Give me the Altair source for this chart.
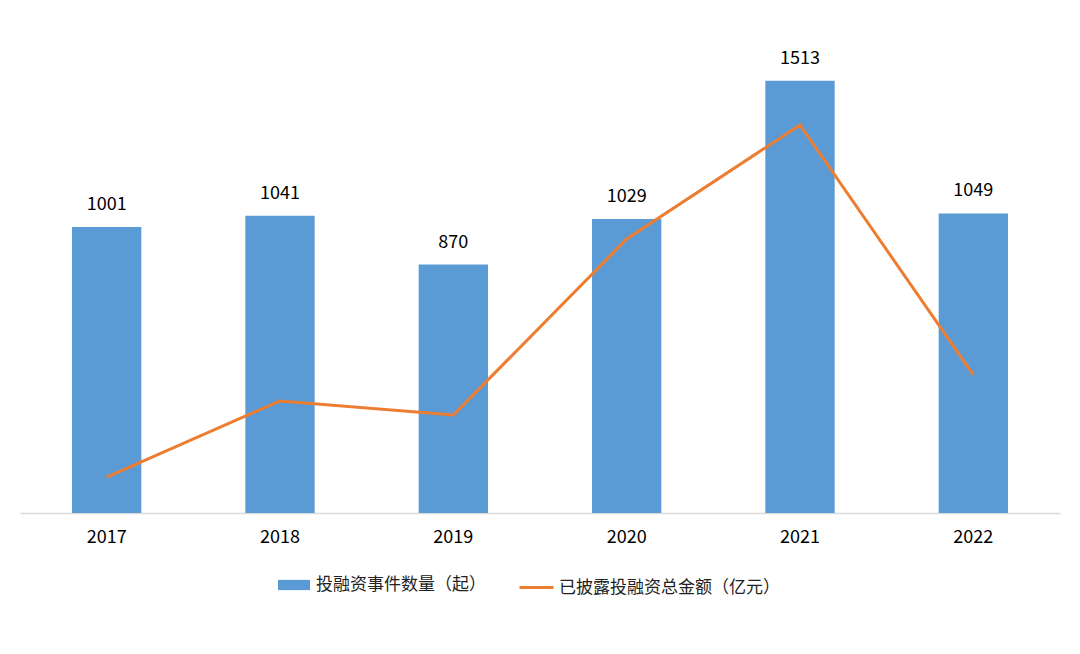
import altair as alt
import pandas as pd

years = ["2017", "2018", "2019", "2020", "2021", "2022"]
events = [1001, 1041, 870, 1029, 1513, 1049]
amounts = [181, 564, 493, 1379, 1953, 695]

bar_name = "投融资事件数量（起）"
line_name = "已披露投融资总金额（亿元）"

df = pd.DataFrame({
    "year": years,
    "events": events,
    "amount": amounts,
    "bar_series": [bar_name] * len(years),
    "line_series": [line_name] * len(years),
})

FONT = "Noto Sans CJK SC"

x = alt.X(
    "year:N",
    title=None,
    sort=years,
    scale=alt.Scale(paddingInner=0.6, paddingOuter=0.3),
    axis=alt.Axis(
        labelAngle=0, labelFontSize=18, labelColor="#000000", labelFont=FONT,
        ticks=False, domainColor="#d9d9d9", domainWidth=1.5, labelPadding=15,
        grid=False,
    ),
)

base = alt.Chart(df)

bars = base.mark_bar(color="#5B9BD5").encode(
    x=x,
    y=alt.Y("events:Q", axis=None, scale=alt.Scale(domain=[0, 1600])),
    fill=alt.Fill(
        "bar_series:N",
        scale=alt.Scale(domain=[bar_name], range=["#5B9BD5"]),
        legend=alt.Legend(
            title=None, orient="none", legendX=258, legendY=513,
            symbolType="M-1,-0.32H1V0.32H-1Z",
            symbolSize=1024, labelFontSize=17, labelFont=FONT, labelColor="#222222",
            symbolStrokeWidth=0, labelOffset=6, labelLimit=0,
        ),
    ),
)

labels = base.mark_text(dy=-22, fontSize=18, font=FONT, color="#000000").encode(
    x=x,
    y=alt.Y("events:Q", axis=None, scale=alt.Scale(domain=[0, 1600])),
    text="events:Q",
)

line = base.mark_line(strokeWidth=3).encode(
    x=x,
    y=alt.Y("amount:Q", axis=None, scale=alt.Scale(domain=[0, 2300])),
    stroke=alt.Stroke(
        "line_series:N",
        scale=alt.Scale(domain=[line_name], range=["#ED7D31"]),
        legend=alt.Legend(
            title=None, orient="none", legendX=498, legendY=513,
            symbolType="stroke", symbolSize=1156,
            symbolStrokeWidth=3, labelFontSize=17, labelFont=FONT,
            labelColor="#222222", labelOffset=4, labelLimit=0,
        ),
    ),
)

chart = (
    alt.layer(alt.layer(bars, labels), line)
    .resolve_scale(y="independent", fill="independent", stroke="independent")
    .properties(
        width=1040, height=457,
        padding={"left": 12, "top": 41, "right": 12, "bottom": 10},
        background="#ffffff",
    )
    .configure_view(stroke=None)
)

chart.save("out.html", embed_options={"renderer": "svg", "actions": False})
